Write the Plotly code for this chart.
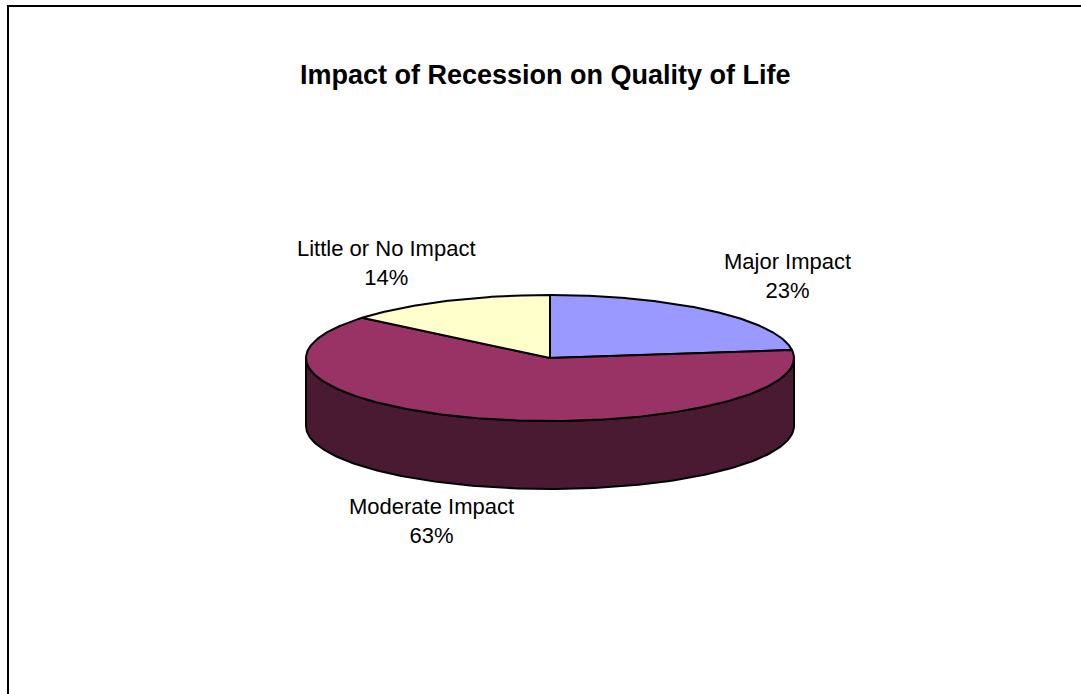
import numpy as np
import plotly.graph_objects as go

# ---- data ----
categories = ["Major Impact", "Moderate Impact", "Little or No Impact"]
values = [23, 63, 14]
top_colors = ["#9999FF", "#993366", "#FFFFCC"]
side_colors = ["#4D4D80", "#4A1A33", "#80806A"]
title_text = "Impact of Recession on Quality of Life"

# ---- geometry (pixel space) ----
W, H = 1081, 694
cx, cy = 550, 358
rx, ry = 244, 63
depth = 68


def pt(theta_deg, dy=0.0):
    t = np.radians(theta_deg)
    return cx + rx * np.sin(t), cy - ry * np.cos(t) + dy


fig = go.Figure()

total = float(sum(values))
starts, ends = [], []
acc = 0.0
for v in values:
    starts.append(acc / total * 360.0)
    acc += v
    ends.append(acc / total * 360.0)

# side walls (front half only: 90..270 degrees)
for i in range(len(values)):
    a0 = max(starts[i], 90.0)
    a1 = min(ends[i], 270.0)
    if a1 <= a0:
        continue
    th = np.linspace(a0, a1, 200)
    xs_top, ys_top = pt(th)
    xs_bot, ys_bot = pt(th[::-1], depth)
    xs = np.concatenate([xs_top, xs_bot, xs_top[:1]])
    ys = np.concatenate([ys_top, ys_bot, ys_top[:1]])
    fig.add_trace(go.Scatter(x=xs, y=ys, mode="lines", fill="toself",
                             fillcolor=side_colors[i],
                             line=dict(color="black", width=2),
                             hoverinfo="skip", showlegend=False))

# top faces
for i in range(len(values)):
    th = np.linspace(starts[i], ends[i], 300)
    xs, ys = pt(th)
    xs = np.concatenate([[cx], xs, [cx]])
    ys = np.concatenate([[cy], ys, [cy]])
    fig.add_trace(go.Scatter(x=xs, y=ys, mode="lines", fill="toself",
                             fillcolor=top_colors[i],
                             line=dict(color="black", width=2),
                             hoverinfo="skip", showlegend=False))

# labels
label_pos = [(787, 276), (431, 521), (386, 263)]
for i, (lx, ly) in enumerate(label_pos):
    fig.add_annotation(x=lx, y=ly, xref="x", yref="y",
                       text=f"{categories[i]}<br>{values[i]}%",
                       showarrow=False,
                       font=dict(family="Liberation Sans, Arial", size=22, color="black"),
                       align="center")

fig.add_annotation(x=545, y=75, xref="x", yref="y", text=f"<b>{title_text}</b>",
                   showarrow=False,
                   font=dict(family="Liberation Sans, Arial", size=27, color="black"))

# chart area border
fig.add_shape(type="rect", x0=8, y0=6, x1=1095, y1=720, xref="x", yref="y",
              line=dict(color="black", width=2), fillcolor="rgba(0,0,0,0)")

fig.update_xaxes(range=[0, W], visible=False, fixedrange=True)
fig.update_yaxes(range=[H, 0], visible=False, fixedrange=True)
fig.update_layout(width=W, height=H, margin=dict(l=0, r=0, t=0, b=0),
                  paper_bgcolor="white", plot_bgcolor="white", showlegend=False)

fig.write_html("out.html")
